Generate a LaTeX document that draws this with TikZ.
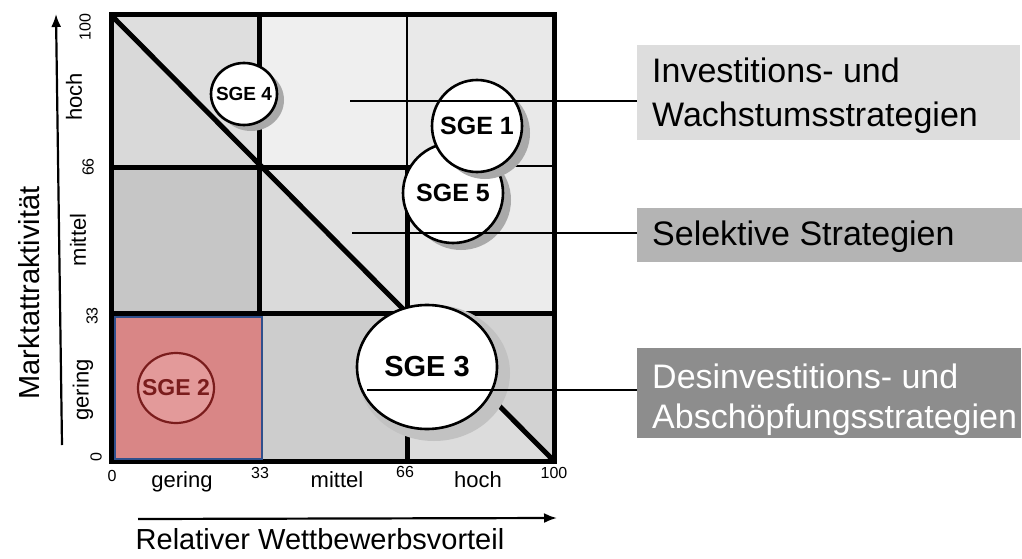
\documentclass[tikz,border=0pt]{standalone}
\usepackage{fontspec}
\setmainfont{Liberation Sans}
\usetikzlibrary{arrows.meta,shapes.geometric}

% cell greys of the portfolio grid
\definecolor{cellTL}{HTML}{D9D9D9}
\definecolor{cellTLu}{HTML}{DEDEDE}
\definecolor{cellTM}{HTML}{EFEFEF}
\definecolor{cellTR}{HTML}{E9E9E9}
\definecolor{cellML}{HTML}{C6C6C6}
\definecolor{cellMM}{HTML}{DADADA}
\definecolor{cellMMu}{HTML}{E2E2E2}
\definecolor{cellMR}{HTML}{ECECEC}
\definecolor{cellBM}{HTML}{CDCDCD}
\definecolor{cellBR}{HTML}{DCDCDC}
\definecolor{cellBRu}{HTML}{D2D2D2}
% highlight of the lower left cell
\definecolor{redfill}{HTML}{D98686}
\definecolor{rededge}{HTML}{30508C}
\definecolor{sgetwofill}{HTML}{E39A9A}
\definecolor{sgetwoedge}{HTML}{7A1C1C}
% shadows and strategy boxes
\definecolor{shadegrey}{HTML}{A9A9A9}
\definecolor{halogrey}{HTML}{C2C2C2}
\definecolor{boxlight}{HTML}{DDDDDD}
\definecolor{boxmid}{HTML}{B4B4B4}
\definecolor{boxdark}{HTML}{8D8D8D}

\begin{document}
\begin{tikzpicture}[x=1pt,y=-1pt,
  thickline/.style={line width=5pt},
  thinline/.style={line width=1.4pt},
  link/.style={line width=1.3pt},
  sge/.style={ellipse, draw, line width=2.6pt, fill=white, inner sep=0pt},
  stratbox/.style={rectangle, draw=none, anchor=north west, inner sep=0pt},
  boxtext/.style={font=\fontsize{34}{40}\selectfont, anchor=base west, inner sep=0pt},
  tickword/.style={font=\fontsize{22}{26}\selectfont, inner sep=0pt},
  ticknum/.style={font=\fontsize{16}{18}\selectfont, inner sep=0pt},
  axistitle/.style={font=\fontsize{29}{34}\selectfont, inner sep=0pt},
  axisarrow/.style={line width=2.2pt, -{Latex[length=13pt,width=10pt]}}
]
\useasboundingbox (0,0) rectangle (1022,559);
\fill[white] (0,0) rectangle (1022,559);

% ---- cell fills ----
\fill[cellTM] (259,15) rectangle (407,167);
\fill[cellTR] (407,15) rectangle (554,167);
\fill[cellML] (111,167) rectangle (259,313);
\fill[cellMR] (407,167) rectangle (554,313);
\fill[cellBM] (259,313) rectangle (407,461);
% cells cut by the diagonal
\fill[cellTL]  (111,15) -- (111,167) -- (259,167) -- cycle;
\fill[cellTLu] (111,15) -- (259,15) -- (259,167) -- cycle;
\fill[cellMM]  (259,167) -- (259,313) -- (407,313) -- cycle;
\fill[cellMMu] (259,167) -- (407,167) -- (407,313) -- cycle;
\fill[cellBR]  (407,313) -- (407,461) -- (554,461) -- cycle;
\fill[cellBRu] (407,313) -- (554,313) -- (554,461) -- cycle;

% ---- grid lines ----
\draw[thinline] (407,15) -- (407,167);
\draw[thinline] (407,166) -- (554,166);
\draw[thickline] (259,15) -- (259,461);
\draw[thickline] (407,167) -- (407,461);
\draw[thickline] (111,167) -- (407,167);
\draw[thickline] (111,313) -- (554,313);
\draw[thickline] (111,15) -- (554,461);
\draw[thickline] (111,15) rectangle (554,461);

% ---- highlighted cell ----
\draw[fill=redfill, draw=rededge, line width=1.8pt] (115,317) rectangle (262,459);

% ---- business units with their shadows ----
\fill[shadegrey] (251,100) ellipse [x radius=33, y radius=31];
\node[sge, minimum width=66, minimum height=62,
      font=\bfseries\fontsize{19}{22}\selectfont] (sge4) at (244,94) {\makebox[0pt]{SGE 4}};

\fill[shadegrey] (461,200) ellipse [x radius=50, y radius=50];
\node[sge, minimum width=100, minimum height=100,
      font=\bfseries\fontsize{25}{28}\selectfont] (sge5) at (453,193) {\makebox[0pt]{SGE 5}};

\fill[shadegrey] (485,133) ellipse [x radius=45, y radius=46];
\node[sge, minimum width=90, minimum height=92,
      font=\bfseries\fontsize{25}{28}\selectfont] (sge1) at (477,126) {\makebox[0pt]{SGE 1}};

\fill[halogrey] (434,373) ellipse [x radius=76, y radius=68];
\node[sge, minimum width=140, minimum height=124,
      font=\bfseries\fontsize{29}{32}\selectfont] (sge3) at (427,367) {\makebox[0pt]{SGE 3}};

\node[sge, fill=sgetwofill, draw=sgetwoedge, line width=2.2pt,
      minimum width=76, minimum height=70, text=sgetwoedge,
      font=\bfseries\fontsize{23}{26}\selectfont] (sge2) at (176,388) {\makebox[0pt]{SGE 2}};

% ---- strategy boxes ----
\node[stratbox, fill=boxlight, minimum width=383, minimum height=95] (box1) at (637,45) {};
\node[stratbox, fill=boxmid,   minimum width=385, minimum height=54] (box2) at (637,208) {};
\node[stratbox, fill=boxdark,  minimum width=384, minimum height=90] (box3) at (637,348) {};

\node[boxtext] (t1a) at (652,83)  {Investitions- und};
\node[boxtext] (t1b) at (652,127) {Wachstumsstrategien};
\node[boxtext] (t2)  at (652,245) {Selektive Strategien};
\node[boxtext, text=white] (t3a) at (652,388) {Desinvestitions- und};
\node[boxtext, text=white] (t3b) at (652,428) {Abschöpfungsstrategien};

% ---- connectors from the grid zones to the boxes ----
\coordinate (z1) at (350,101);
\coordinate (z2) at (352,233);
\coordinate (z3) at (367,390);
\draw[link] (z1) -- (z1 -| box1.west);
\draw[link] (z2) -- (z2 -| box2.west);
\draw[link] (z3) -- (z3 -| box3.west);

% ---- vertical axis ----
\coordinate (ya) at (62,445);
\coordinate (yb) at (56,14);
\draw[axisarrow] (ya) -- (yb);
\node[axistitle, rotate=90] (ytitle) at (29,293) {Marktattraktivität};
\node[tickword, rotate=90] (yhoch)   at (74,97)  {hoch};
\node[tickword, rotate=90] (ymittel) at (78,240) {mittel};
\node[tickword, rotate=90] (ygering) at (83,390) {gering};
\node[ticknum, rotate=90] (y100) at (85,27)  {100};
\node[ticknum, rotate=90] (y66)  at (88,167) {66};
\node[ticknum, rotate=90] (y33)  at (92,316) {33};
\node[ticknum, rotate=90] (y0)   at (96,457) {0};

% ---- horizontal axis ----
\node[ticknum] (x0)   at (112,476) {0};
\node[ticknum] (x33)  at (260,473) {33};
\node[ticknum] (x66)  at (405,472) {66};
\node[ticknum] (x100) at (554,473) {100};
\node[tickword, anchor=base] (xgering) at (182,487) {gering};
\node[tickword, anchor=base] (xmittel) at (337,487) {mittel};
\node[tickword, anchor=base] (xhoch)   at (478,487) {hoch};
\coordinate (xa) at (138,519);
\coordinate (xb) at (557,518);
\draw[axisarrow] (xa) -- (xb);
\node[axistitle, anchor=base] (xtitle) at (320,549) {Relativer Wettbewerbsvorteil};
\end{tikzpicture}
\end{document}
